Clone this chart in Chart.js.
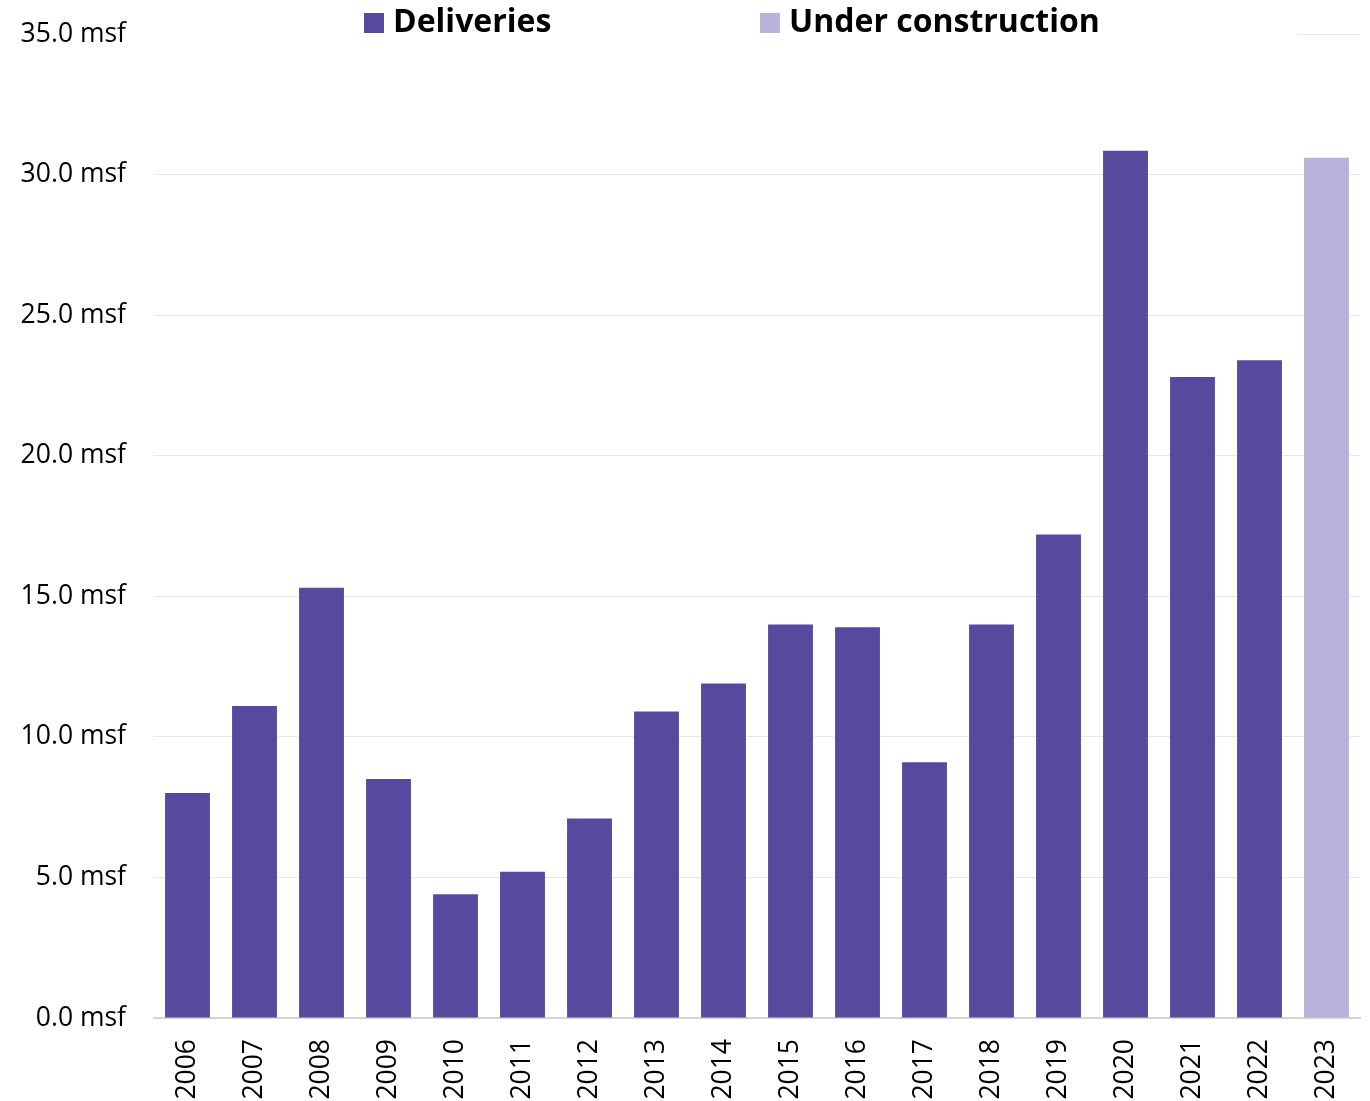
<!DOCTYPE html>
<html>
<head>
<meta charset="utf-8">
<script src="https://cdn.jsdelivr.net/npm/chart.js@4/dist/chart.umd.min.js"></script>
<style>
    html, body { margin: 0; padding: 0; background: #fff; }
    #wrap { position: relative; width: 1370px; height: 1101px; }
    #legend {
        position: absolute; left: 140px; top: 0; width: 1158px; height: 40px;
        background: #fff; font-family: "Open Sans", sans-serif; font-weight: 700;
        font-size: 32px; color: #000;
    }
    .item { position: absolute; top: 0; line-height: 40px; white-space: nowrap; }
    .item span { display: inline-block; width: 20px; height: 20px; margin-right: 9px; vertical-align: -1px; }
</style>
</head>
<body>
<div id="wrap">
    <canvas id="deliveriesChart" width="1370" height="1101"></canvas>
    <div id="legend">
        <div class="item" style="left:224px"><span style="background:#574a9e"></span>Deliveries</div>
        <div class="item" style="left:620px"><span style="background:#b9b2dc"></span>Under construction</div>
    </div>
</div>
<script>
const years = ['2006', '2007', '2008', '2009', '2010', '2011', '2012', '2013', '2014',
    '2015', '2016', '2017', '2018', '2019', '2020', '2021', '2022', '2023'];
const deliveries = [8.0, 11.1, 15.3, 8.5, 4.4, 5.2, 7.1, 10.9, 11.9,
    14.0, 13.9, 9.1, 14.0, 17.2, 30.85, 22.8, 23.4, null];
const underConstruction = [null, null, null, null, null, null, null, null, null,
    null, null, null, null, null, null, null, null, 30.6];
const yTicks = [0, 5, 10, 15, 20, 25, 30, 35];

const ctx = document.getElementById('deliveriesChart').getContext('2d');
new Chart(ctx, {
    type: 'bar',
    data: {
        labels: years,
        datasets: [{
            label: 'Deliveries',
            data: deliveries,
            backgroundColor: '#574a9e'
        }, {
            label: 'Under construction',
            data: underConstruction,
            backgroundColor: '#b9b2dc'
        }]
    },
    options: {
        responsive: false,
        animation: false,
        layout: { padding: { top: 34, right: 10, left: 0, bottom: 0 } },
        plugins: { legend: { display: false }, tooltip: { enabled: false } },
        datasets: { bar: { barPercentage: 0.67, categoryPercentage: 1.0 } },
        scales: {
            x: {
                stacked: true,
                grid: { display: false, drawTicks: false },
                border: { color: '#d4d4d4', width: 2 },
                ticks: {
                    minRotation: 90, maxRotation: 90, padding: 21,
                    color: '#000', font: { family: 'Open Sans', size: 26.5 }
                },
                afterFit: scale => {
                    scale.height = 83;
                    scale.paddingLeft = 0;
                    scale.paddingRight = 0;
                }
            },
            y: {
                stacked: true,
                min: 0, max: 35,
                afterBuildTicks: scale => { scale.ticks = yTicks.map(v => ({ value: v })); },
                grid: { color: '#e6e6e6', drawTicks: false },
                border: { display: false },
                ticks: {
                    padding: 28,
                    color: '#000', font: { family: 'Open Sans', size: 26.5 },
                    callback: v => v.toFixed(1) + ' msf'
                },
                afterFit: scale => {
                    scale.width = 154;
                    scale.paddingTop = 0;
                    scale.paddingBottom = 0;
                }
            }
        }
    }
});
</script>
</body>
</html>
